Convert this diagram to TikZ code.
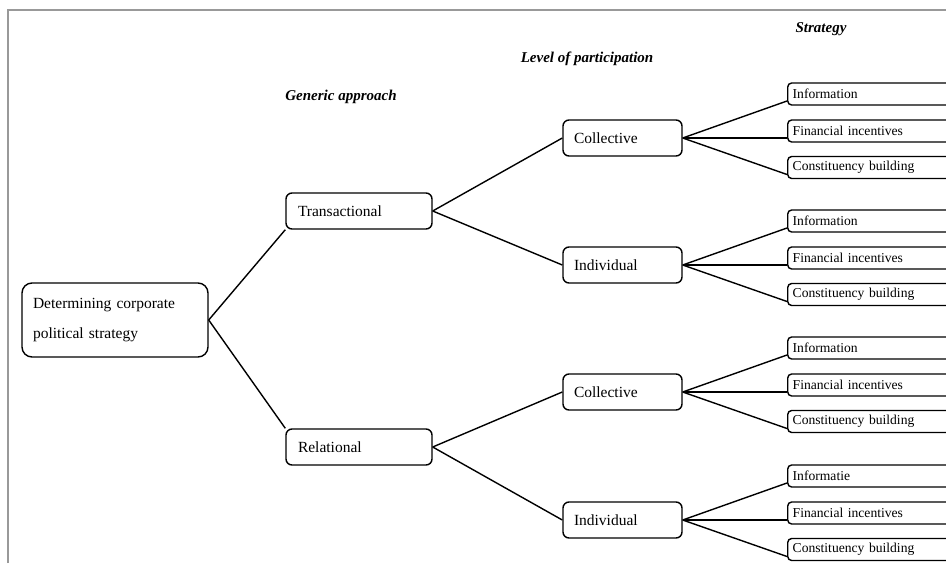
\documentclass[tikz,border=0pt]{standalone}
\usepackage{fontspec}
\setmainfont{Liberation Serif}
\begin{document}
\begin{tikzpicture}[x=1pt,y=-1pt,
  line width=1.4pt,
  rootbox/.style={draw, rounded corners=10pt, minimum width=186pt, minimum height=74pt,
    inner xsep=11pt, inner ysep=0pt, text width=164pt, align=left,
    font=\fontsize{15.5}{30}\selectfont},
  genbox/.style={draw, rounded corners=6pt, minimum width=146pt, minimum height=36pt,
    inner xsep=12pt, inner ysep=0pt, text width=122pt, align=left,
    font=\fontsize{15.5}{18}\selectfont},
  lvlbox/.style={draw, rounded corners=6pt, minimum width=119pt, minimum height=36pt,
    inner xsep=11pt, inner ysep=0pt, text width=97pt, align=left,
    font=\fontsize{15.5}{18}\selectfont},
  stratbox/.style={draw, rounded corners=4pt, anchor=west, minimum width=200pt, minimum height=22pt,
    inner xsep=5pt, inner ysep=0pt, text width=190pt, align=left,
    font=\fontsize{13.6}{16}\selectfont},
  hdr/.style={font=\fontsize{15}{18}\selectfont\bfseries\itshape},
  conn/.style={draw, line width=1.4pt}
]
\useasboundingbox (0,0) rectangle (946,563);
\clip (0,0) rectangle (946,563);
% frame
\draw[line width=2.5pt, color=black!40] (8,563) -- (8,10) -- (950,10);

% headers
\node[hdr] (hstrat) at (821,29) {Strategy};
\node[hdr] (hlevel) at (587,59) {Level of participation};
\node[hdr] (hgen) at (341,97) {Generic approach};

% main nodes
\node[rootbox] (root) at (115,320) {Determining corporate\\political strategy};
\node[genbox] (tr) at (359,211) {Transactional};
\node[genbox] (rel) at (359,447) {Relational};
\node[lvlbox] (c1) at (622.5,138) {Collective};
\node[lvlbox] (i1) at (622.5,265) {Individual};
\node[lvlbox] (c2) at (622.5,392) {Collective};
\node[lvlbox] (i2) at (622.5,520) {Individual};

% strategy boxes
\foreach \g/\yc/\first in {c1/138/Information, i1/265/Information, c2/392/Information, i2/520/Informatie}{
  \node[stratbox] (\g a) at (787,\yc-44) {\first};
  \node[stratbox] (\g b) at (787,\yc-7) {Financial incentives};
  \node[stratbox] (\g c) at (787,\yc+29.5) {Constituency building};
  \draw[conn] (\g.east) -- ([yshift=-7pt]\g a.west);
  \draw[conn] (\g.east) -- ([yshift=-7pt]\g b.west);
  \draw[conn] (\g.east) -- ([yshift=-7pt]\g c.west);
}

% connectors
\draw[conn] (root.east) -- (tr.south west);
\draw[conn] (root.east) -- (rel.north west);
\draw[conn] (tr.east) -- (c1.west);
\draw[conn] (tr.east) -- (i1.west);
\draw[conn] (rel.east) -- (c2.west);
\draw[conn] (rel.east) -- (i2.west);
\end{tikzpicture}
\end{document}
